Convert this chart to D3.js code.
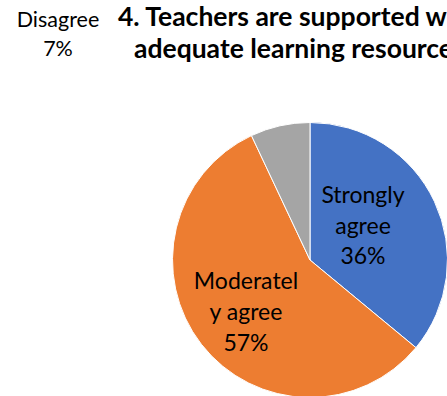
<!DOCTYPE html>
<html>
<head>
<meta charset="utf-8">
<script src="https://cdn.jsdelivr.net/npm/d3@7"></script>
<style>
html,body{margin:0;padding:0;background:#fff;overflow:hidden;}
svg{display:block;}
</style>
</head>
<body>
<svg id="chart" width="447" height="396"></svg>
<script>
const categories = ["Strongly agree", "Moderately agree", "Disagree"];
const values = [36, 57, 7];
const colors = ["#4472C4", "#ED7D31", "#A5A5A5"];
const titleLines = ["4. Teachers are supported with", "adequate learning resources"];
const labelLines = [["Strongly", "agree", "36%"], ["Moderatel", "y agree", "57%"], ["Disagree", "7%"]];

const svg = d3.select("#chart");
const font = "Lato, 'Open Sans', sans-serif";
const cx = 310, cy = 260, r = 137.5;

const pie = d3.pie().sort(null).value(d => d)(values);
const arc = d3.arc().innerRadius(0).outerRadius(r);

const g = svg.append("g").attr("transform", `translate(${cx},${cy})`);
g.selectAll("path").data(pie).join("path")
  .attr("d", arc)
  .attr("fill", (d, i) => colors[i])
  .attr("stroke", "#fff")
  .attr("stroke-width", 1);

// title
const titleX = [118, 134];
const titleY = [26, 58];
svg.selectAll("text.title").data(titleLines).join("text")
  .attr("class", "title")
  .attr("x", (d, i) => titleX[i])
  .attr("y", (d, i) => titleY[i])
  .attr("font-family", font)
  .attr("font-weight", "bold")
  .attr("font-size", 26.5)
  .attr("fill", "#000")
  .text(d => d);

// labels
const labelPos = [[363, 203], [246, 289], [58, 27]];
const lineH = [30.5, 31, 28.5];
const fs = [23, 23, 21.5];
labelLines.forEach((lines, i) => {
  const t = svg.append("text")
    .attr("font-family", font)
    .attr("font-size", fs[i])
    .attr("fill", "#000")
    .attr("text-anchor", "middle");
  lines.forEach((ln, j) => {
    t.append("tspan").attr("x", labelPos[i][0]).attr("y", labelPos[i][1] + j * lineH[i]).text(ln);
  });
});
</script>
</body>
</html>
